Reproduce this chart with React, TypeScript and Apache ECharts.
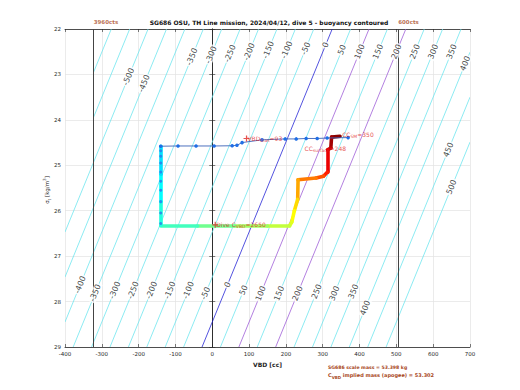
import { useEffect, useRef } from "react";
import * as echarts from "echarts";

// ---------- axes ----------
const xRange = [-400, 700];
const xStep = 100;
const yRange = [22, 29];
const yStep = 1;

// ---------- buoyancy contours (b = VBD + slope*(sigma - sigma0)) ----------
const contourLevels = [-600, -550, -500, -450, -400, -350, -300, -250, -200, -150, -100, -50, 0, 50, 100, 150, 200, 250, 300, 350, 400, 450, 500];
const blueLevels = [0];
const purpleLevels = [100, 200];
const buoyancySlope = 50.5; // cc per kg/m^3
const neutralSigmaOfZero = 28.45;
const leftClippedMaxLevel = -550;

const pumpVBD = [-322, 505];
const pumpLabels = ["3960cts", "600cts"];

const topLabelLevels = [-500, -450, -350, -300, -250, -200, -150, -100, -50, 0, 50, 100, 150, 200, 250, 300, 350, 400];
const topLabelSigma = [23.05, 23.2, 22.61, 22.57, 22.54, 22.5, 22.46, 22.46, 22.43, 22.35, 22.46, 22.5, 22.5, 22.5, 22.5, 22.5, 22.5, 22.76];
const bottomLabelLevels = [-400, -350, -300, -250, -200, -150, -100, -50, 0, 50, 100, 150, 200, 250, 300, 350, 400];
const bottomLabelSigma = [27.63, 27.81, 27.75, 27.75, 27.75, 27.75, 27.75, 27.82, 27.63, 27.75, 27.82, 27.82, 27.82, 27.78, 27.82, 27.78, 28.14];
const rightLabelLevels = [450, 500];
const rightLabelSigma = [24.66, 25.48];

// ---------- dive trajectory (coloured by normalised time) ----------
const diveVBD = [347, 324, 322, 313, 313, 302, 282, 233, 232, 223, 216, 210, 150, 60, -40, -140, -140, -140, -140];
const diveSigma = [24.36, 24.38, 24.62, 24.66, 25.15, 25.24, 25.28, 25.32, 25.75, 26.0, 26.25, 26.33, 26.33, 26.33, 26.32, 26.32, 25.8, 25.2, 24.58];
const diveTime = [1.0, 0.98, 0.95, 0.92, 0.87, 0.82, 0.77, 0.74, 0.68, 0.64, 0.61, 0.58, 0.55, 0.51, 0.46, 0.42, 0.39, 0.36, 0.33];

// ---------- sampled points ----------
const sampleVBD = [-140, -93, -44, 5, 54, 67, 81, 135, 198, 228, 255, 285, 312, 369];
const sampleSigma = [24.58, 24.575, 24.575, 24.575, 24.57, 24.56, 24.5, 24.44, 24.42, 24.42, 24.41, 24.41, 24.4, 24.39];
const verticalSampleVBD = [-140, -140, -140, -140, -140, -140, -140, -140, -140];
const verticalSampleSigma = [24.68, 24.8, 24.95, 25.15, 25.35, 25.55, 25.8, 26.05, 26.28];

// ---------- annotations ----------
const annotationVBD = [93, 350, 248, 8];
const annotationSigma = [24.4, 24.33, 24.63, 26.3];
const annotationMain = ["VBD", "CC", "CC", "Dive C"];
const annotationSub = ["bias", "SM", "surface", "VBD"];
const annotationValue = ["=93", "=350", "=248", "=2650"];
const markerVBD = [93, 8];
const markerSigma = [24.41, 26.31];

const title = "SG686 OSU, TH Line mission, 2024/04/12, dive 5 - buoyancy contoured";
const massLine1 = "SG686 scale mass = 53.398 kg";
const massLine2Rest = " implied mass (apogee) = 53.302";

const FONT = "DejaVu Sans";
const BROWN = "#a8481c";
const RED = "#e02424";

function jet(t: number): string {
  const c = (v: number) => Math.round(Math.max(0, Math.min(1, v)) * 255);
  return `rgb(${c(1.5 - Math.abs(4 * t - 3))},${c(1.5 - Math.abs(4 * t - 2))},${c(1.5 - Math.abs(4 * t - 1))})`;
}

function vbdOnContour(level: number, sigma: number) {
  return level - buoyancySlope * (sigma - neutralSigmaOfZero);
}

function contourSegment(level: number) {
  const vMin = level <= leftClippedMaxLevel ? pumpVBD[0] : xRange[0];
  const vMax = xRange[1];
  const s1 = Math.max(yRange[0], neutralSigmaOfZero + (level - vMax) / buoyancySlope);
  const s2 = Math.min(yRange[1], neutralSigmaOfZero + (level - vMin) / buoyancySlope);
  if (s2 <= s1) return null;
  return [
    [vbdOnContour(level, s1), s1],
    [vbdOnContour(level, s2), s2],
  ];
}

function buildOption() {
  const contourData = contourLevels
    .map((lv) => {
      const seg = contourSegment(lv);
      if (!seg) return null;
      const color = blueLevels.includes(lv) ? "#1a1ad4" : purpleLevels.includes(lv) ? "#9a55d6" : "#66e4ee";
      return { coords: seg, lineStyle: { color, width: 0.75, opacity: 1 } };
    })
    .filter(Boolean);

  const mkLabels = (levels: number[], sigmas: number[]) =>
    levels.map((lv, i) => ({ value: [vbdOnContour(lv, sigmas[i]), sigmas[i]], label: { formatter: String(lv) } }));
  const contourLabelData = [
    ...mkLabels(topLabelLevels, topLabelSigma),
    ...mkLabels(bottomLabelLevels, bottomLabelSigma),
    ...mkLabels(rightLabelLevels, rightLabelSigma),
  ];

  const diveSegments = diveVBD.slice(1).map((_, i) => ({
    coords: [
      [diveVBD[i], diveSigma[i]],
      [diveVBD[i + 1], diveSigma[i + 1]],
    ],
    lineStyle: { color: jet((diveTime[i] + diveTime[i + 1]) / 2), opacity: 1 },
  }));

  const annotationData = annotationVBD.map((v, i) => ({
    value: [v, annotationSigma[i]],
    label: { formatter: `{a|${annotationMain[i]}}{b|${annotationSub[i]}}{a|${annotationValue[i]}}` },
  }));

  const axisCommon = {
    type: "value" as const,
    axisLine: { show: true, lineStyle: { color: "#262626", width: 0.8 } },
    axisTick: { show: true, inside: true, length: 3, lineStyle: { color: "#262626", width: 0.6 } },
  };

  return {
    animation: false,
    backgroundColor: "#fff",
    textStyle: { fontFamily: FONT },
    grid: { left: 65, right: 50, top: 29, bottom: 43, containLabel: false },
    xAxis: [
      {
        ...axisCommon,
        min: xRange[0],
        max: xRange[1],
        interval: xStep,
        position: "bottom",
        axisLabel: { fontSize: 5.5, color: "#262626", margin: 4, fontFamily: FONT },
        splitLine: { show: true, lineStyle: { color: "#e3e3e3", width: 0.7 } },
        name: "VBD [cc]",
        nameLocation: "middle",
        nameGap: 14,
        nameTextStyle: { fontSize: 6, fontWeight: "bold", color: "#262626", fontFamily: FONT },
      },
      {
        ...axisCommon,
        min: xRange[0],
        max: xRange[1],
        interval: xStep,
        position: "top",
        axisLabel: { show: false },
        splitLine: { show: false },
      },
    ],
    yAxis: [
      {
        ...axisCommon,
        min: yRange[0],
        max: yRange[1],
        interval: yStep,
        inverse: true,
        position: "left",
        axisLabel: { fontSize: 5.5, color: "#262626", margin: 4, fontFamily: FONT },
        splitLine: { show: true, lineStyle: { color: "#e3e3e3", width: 0.7 } },
      },
      {
        ...axisCommon,
        min: yRange[0],
        max: yRange[1],
        interval: yStep,
        inverse: true,
        position: "right",
        axisLabel: { show: false },
        splitLine: { show: false },
      },
    ],
    graphic: [
      {
        type: "text",
        x: 269,
        y: 22,
        silent: true,
        style: { text: title, font: `bold 6px "${FONT}"`, fill: "#111", align: "center", verticalAlign: "middle" },
      },
      {
        type: "text",
        x: 47,
        y: 190,
        rotation: Math.PI / 2,
        silent: true,
        style: {
          text: "{a|σ}{s|t}{a| [kg/m}{p|3}{a|]}",
          align: "center",
          verticalAlign: "middle",
          fill: "#262626",
          rich: {
            a: { fontSize: 5.5, fontFamily: FONT, lineHeight: 9, fill: "#262626" },
            s: { fontSize: 4.2, fontFamily: FONT, lineHeight: 5, verticalAlign: "bottom", fill: "#262626" },
            p: { fontSize: 4.2, fontFamily: FONT, lineHeight: 5, verticalAlign: "top", fill: "#262626" },
          },
        },
      },
      {
        type: "text",
        x: 328,
        y: 367,
        silent: true,
        style: { text: massLine1, font: `bold 4.6px "${FONT}"`, fill: BROWN, align: "left", verticalAlign: "middle" },
      },
      {
        type: "text",
        x: 328,
        y: 375,
        silent: true,
        style: {
          text: `{a|C}{b|VBD}{a|${massLine2Rest}}`,
          align: "left",
          verticalAlign: "middle",
          rich: {
            a: { fontSize: 5, fontWeight: "bold", fontFamily: FONT, lineHeight: 8, fill: BROWN },
            b: { fontSize: 4, fontWeight: "bold", fontFamily: FONT, lineHeight: 5, verticalAlign: "bottom", fill: BROWN },
          },
        },
      },
    ],
    series: [
      {
        type: "lines",
        coordinateSystem: "cartesian2d",
        silent: true,
        z: 1,
        lineStyle: { opacity: 1 },
        data: contourData,
      },
      {
        type: "lines",
        coordinateSystem: "cartesian2d",
        silent: true,
        z: 2,
        lineStyle: { color: "#444", width: 1, opacity: 1 },
        data: pumpVBD.map((v) => ({ coords: [[v, yRange[0]], [v, yRange[1]]] })),
      },
      {
        type: "scatter",
        silent: true,
        z: 3,
        symbolSize: 0,
        data: pumpVBD.map((v, i) => ({ value: [v, yRange[0]], label: { formatter: pumpLabels[i] } })),
        label: {
          show: true,
          position: [0, -7],
          align: "left",
          verticalAlign: "middle",
          fontSize: 5.5,
          fontWeight: "bold",
          color: BROWN,
          fontFamily: FONT,
        },
      },
      {
        type: "scatter",
        silent: true,
        z: 4,
        symbolSize: 0,
        data: contourLabelData,
        label: {
          show: true,
          position: "inside",
          rotate: 68,
          fontSize: 8,
          color: "#111",
          fontFamily: FONT,
          backgroundColor: "#fff",
          padding: [0, 1],
        },
      },
      {
        type: "lines",
        coordinateSystem: "cartesian2d",
        silent: true,
        z: 5,
        lineStyle: { width: 3.6, cap: "round", join: "round", opacity: 1 },
        data: diveSegments,
      },
      {
        type: "line",
        silent: true,
        z: 6,
        data: sampleVBD.map((v, i) => [v, sampleSigma[i]]),
        symbol: "circle",
        symbolSize: 3.6,
        showSymbol: true,
        lineStyle: { color: "#3a62b8", width: 0.9 },
        itemStyle: { color: "#1f6fe6" },
      },
      {
        type: "scatter",
        silent: true,
        z: 6,
        data: verticalSampleVBD.map((v, i) => [v, verticalSampleSigma[i]]),
        symbol: "circle",
        symbolSize: 3,
        itemStyle: { color: "#2a78e8" },
      },
      {
        type: "scatter",
        silent: true,
        z: 7,
        data: markerVBD.map((v, i) => [v, markerSigma[i]]),
        symbol: "path://M4,0H6V4H10V6H6V10H4V6H0V4H4Z",
        symbolSize: 6,
        itemStyle: { color: RED },
      },
      {
        type: "scatter",
        silent: true,
        z: 8,
        symbolSize: 0,
        data: annotationData,
        label: {
          show: true,
          position: "right",
          distance: 1,
          color: RED,
          rich: {
            a: { fontSize: 6, fontFamily: FONT, lineHeight: 9, color: RED },
            b: { fontSize: 4.5, fontFamily: FONT, lineHeight: 5, verticalAlign: "bottom", color: RED },
          },
        },
      },
    ],
  };
}

export default function App() {
  const ref = useRef<HTMLDivElement>(null);
  useEffect(() => {
    if (!ref.current) return;
    const chart = echarts.init(ref.current, undefined, { renderer: "svg" });
    chart.setOption(buildOption() as any);
    return () => chart.dispose();
  }, []);
  return (
    <div
      ref={ref}
      style={{ position: "absolute", left: 0, top: 0, width: 520, height: 390, background: "#fff" }}
    />
  );
}
